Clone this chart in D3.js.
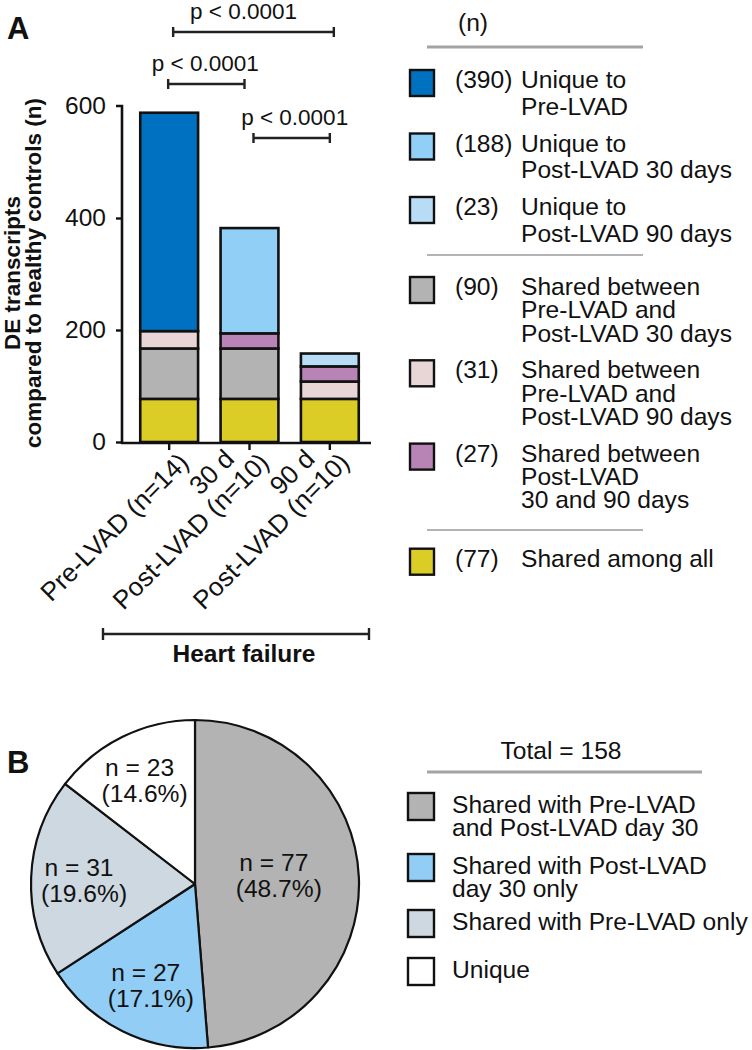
<!DOCTYPE html>
<html><head><meta charset="utf-8">
<script src="https://cdn.jsdelivr.net/npm/d3@7"></script>
<style>
body{margin:0;background:#fff}
svg{display:block}
text{font-family:"Liberation Sans",Arial,Helvetica,sans-serif;fill:#111}
</style>
</head><body>
<svg id="c" width="752" height="1050"></svg>
<script>
// ---------- DATA ----------
const categories = ["pre", "d30", "d90"];
const categoryLabels = [["Pre-LVAD (n=14)"], ["30 d", "Post-LVAD (n=10)"], ["90 d", "Post-LVAD (n=10)"]];
const seriesKeys = ["all", "pre30", "pre90", "d3090", "uPre", "u30", "u90"];
const seriesColors = ["#dccd26", "#b3b3b3", "#e8d6d6", "#b784b5", "#0070c0", "#92cff7", "#b8dcf5"];
const seriesAll   = [77, 77, 77];
const seriesPre30 = [90, 90, 0];
const seriesPre90 = [31, 0, 31];
const series3090  = [0, 27, 27];
const seriesUPre  = [390, 0, 0];
const seriesU30   = [0, 188, 0];
const seriesU90   = [0, 0, 23];
const yTicks = [0, 200, 400, 600];
const yTitle = ["DE transcripts", "compared to healthy controls (n)"];
const groupTitle = "Heart failure";
const comparisons = [[0, 2], [0, 1], [1, 2]];
const pValues = ["p < 0.0001", "p < 0.0001", "p < 0.0001"];
const legendHeader = "(n)";
const legendOrder = ["uPre", "u30", "u90", "pre30", "pre90", "d3090", "all"];
const legendCounts = [390, 188, 23, 90, 31, 27, 77];
const legendLabels = [
  ["Unique to", "Pre-LVAD"],
  ["Unique to", "Post-LVAD 30 days"],
  ["Unique to", "Post-LVAD 90 days"],
  ["Shared between", "Pre-LVAD and", "Post-LVAD 30 days"],
  ["Shared between", "Pre-LVAD and", "Post-LVAD 90 days"],
  ["Shared between", "Post-LVAD", "30 and 90 days"],
  ["Shared among all"]
];
const pieValues = [77, 27, 31, 23];
const pieColors = ["#b3b3b3", "#92cdf5", "#cdd8e0", "#ffffff"];
const pieLegendLabels = [
  ["Shared with Pre-LVAD", "and Post-LVAD day 30"],
  ["Shared with Post-LVAD", "day 30 only"],
  ["Shared with Pre-LVAD only"],
  ["Unique"]
];
const pieTotalLabel = "Total = 158";

// ---------- LAYOUT ----------
const svg = d3.select("#c");
const FS = 24.6;
const seriesByKey = {all: seriesAll, pre30: seriesPre30, pre90: seriesPre90, d3090: series3090, uPre: seriesUPre, u30: seriesU30, u90: seriesU90};
const colorOf = d3.scaleOrdinal().domain(seriesKeys).range(seriesColors);
const table = categories.map((c, i) => {
  const row = {cat: c};
  seriesKeys.forEach(k => row[k] = seriesByKey[k][i]);
  return row;
});

const x = d3.scaleBand().domain(categories).range([129, 370]).paddingInner(0.28).paddingOuter(0.14);
const y = d3.scaleLinear().domain([0, 600]).range([442, 106]);
const axisX0 = 122, baseY = 443;

// panel labels
svg.append("text").attr("x", 7).attr("y", 39).attr("font-size", 31).attr("font-weight", "bold").text("A");
svg.append("text").attr("x", 7).attr("y", 773).attr("font-size", 31).attr("font-weight", "bold").text("B");

// bars
const stack = d3.stack().keys(seriesKeys)(table);
const gBars = svg.append("g");
stack.forEach(layer => {
  gBars.selectAll(null).data(layer.filter(d => d[1] - d[0] > 0)).enter().append("rect")
    .attr("x", d => x(d.data.cat))
    .attr("width", x.bandwidth())
    .attr("y", d => y(d[1]))
    .attr("height", d => y(d[0]) - y(d[1]))
    .attr("fill", colorOf(layer.key))
    .attr("stroke", "#111").attr("stroke-width", 2.6);
});

// y axis
const yAxis = svg.append("g").attr("transform", `translate(${axisX0},0)`)
  .call(d3.axisLeft(y).tickValues(yTicks).tickSize(6).tickPadding(10).tickFormat(d3.format("d")));
yAxis.select(".domain").attr("d", `M-6,${y(600)}H0V${baseY + 1}`).attr("stroke", "#111").attr("stroke-width", 2.6);
yAxis.selectAll(".tick line").attr("stroke", "#111").attr("stroke-width", 2.4);
yAxis.selectAll(".tick text").attr("font-size", 24.5).attr("fill", "#111").attr("font-family", '"Liberation Sans",Arial,sans-serif');
yAxis.selectAll(".tick").filter(d => d === 600).select("line").remove();

// x axis
const xAxis = svg.append("g").attr("transform", `translate(0,${baseY})`)
  .call(d3.axisBottom(x).tickSize(7).tickFormat(""));
xAxis.select(".domain").attr("d", `M${axisX0 - 1},0H${x.range()[1] + 1}`).attr("stroke", "#111").attr("stroke-width", 2.6);
xAxis.selectAll(".tick line").attr("stroke", "#111").attr("stroke-width", 2.4);
xAxis.selectAll(".tick text").remove();
categories.forEach((c, i) => {
  const cx = x(c) + x.bandwidth() / 2;
  const lines = categoryLabels[i];
  const last = lines.length - 1;
  const g = svg.append("g").attr("transform", `translate(${cx + 21},${baseY + 21}) rotate(-45)`);
  lines.forEach((t, j) => {
    g.append("text").attr("text-anchor", "end").attr("font-size", 26)
      .attr("x", j < last ? -22 : 0).attr("y", (j - last) * 27).text(t);
  });
});

// y title
const yt = svg.append("g").attr("transform", "translate(0,273) rotate(-90)");
yTitle.forEach((t, j) => {
  yt.append("text").attr("text-anchor", "middle").attr("font-size", 22.5).attr("font-weight", "bold")
    .attr("x", 0).attr("y", 19.5 + j * 21.5).text(t);
});

// heart failure bracket
const hfY = 634, hfX0 = 103, hfX1 = 369;
svg.append("path").attr("d", `M${hfX0},${hfY - 6}V${hfY + 6}M${hfX0},${hfY}H${hfX1}M${hfX1},${hfY - 6}V${hfY + 6}`)
  .attr("stroke", "#222").attr("stroke-width", 2.4).attr("fill", "none");
svg.append("text").attr("x", (hfX0 + hfX1) / 2 + 8).attr("y", 662).attr("text-anchor", "middle")
  .attr("font-size", 24.5).attr("font-weight", "bold").text(groupTitle);

// significance brackets
const bracketY = [32, 84, 138];
const bracketDx = [[4, 4], [-1, -5], [4, 0]];
const textDx = [-10, -1, 3];
comparisons.forEach((cmp, i) => {
  const xa = x(categories[cmp[0]]) + x.bandwidth() / 2 + bracketDx[i][0];
  const xb = x(categories[cmp[1]]) + x.bandwidth() / 2 + bracketDx[i][1];
  const by = bracketY[i];
  svg.append("path").attr("d", `M${xa},${by - 5}V${by + 5}M${xa},${by}H${xb}M${xb},${by - 5}V${by + 5}`)
    .attr("stroke", "#222").attr("stroke-width", 2.4).attr("fill", "none");
  svg.append("text").attr("x", (xa + xb) / 2 + textDx[i]).attr("y", by - 13).attr("text-anchor", "middle")
    .attr("font-size", 22.5).text(pValues[i]);
});

// legend A
svg.append("text").attr("x", 473).attr("y", 31).attr("text-anchor", "middle").attr("font-size", FS).text(legendHeader);
const sepLines = [[47, 3, "#a3a3a3"], [255, 2, "#b3b3b3"], [530, 2, "#b3b3b3"]];
sepLines.forEach(s => svg.append("line").attr("x1", 427).attr("x2", 643).attr("y1", s[0]).attr("y2", s[0])
  .attr("stroke", s[2]).attr("stroke-width", s[1]));
const legBase = [88, 151.5, 215, 295, 378.3, 461.6, 566.7];
const legLH = [26.6, 26.6, 26.6, 23.4, 23.4, 23.4, 23.4];
legendOrder.forEach((k, i) => {
  const b = legBase[i];
  svg.append("rect").attr("x", 410).attr("y", b - 18).attr("width", 24).attr("height", 26)
    .attr("fill", colorOf(k)).attr("stroke", "#111").attr("stroke-width", 2.4);
  svg.append("text").attr("x", 455).attr("y", b).attr("font-size", FS).text(`(${legendCounts[i]})`);
  legendLabels[i].forEach((t, j) => {
    svg.append("text").attr("x", 521).attr("y", b + j * legLH[i]).attr("font-size", FS).text(t);
  });
});

// pie
const cx = 195, cy = 884, R = 164;
const pie = d3.pie().sort(null).value(d => d)(pieValues);
const arc = d3.arc().innerRadius(0).outerRadius(R);
const total = d3.sum(pieValues);
const gPie = svg.append("g").attr("transform", `translate(${cx},${cy})`);
gPie.selectAll("path").data(pie).enter().append("path")
  .attr("d", arc).attr("fill", (d, i) => pieColors[i]).attr("stroke", "#111").attr("stroke-width", 2.2)
  .attr("stroke-linejoin", "round");
const pct = d3.format(".1f");
pie.forEach(d => {
  const lr = d.value / total > 0.4 ? 81 : 114;
  const a = (d.startAngle + d.endAngle) / 2 - 0.03;
  const lx = Math.sin(a) * lr, ly = -Math.cos(a) * lr;
  gPie.append("text").attr("x", lx - 2).attr("y", ly - 7).attr("text-anchor", "middle").attr("font-size", FS).text(`n = ${d.value}`);
  gPie.append("text").attr("x", lx + 3).attr("y", ly + 19).attr("text-anchor", "middle").attr("font-size", FS).text(`(${pct(d.value / total * 100)}%)`);
});

// pie legend
svg.append("text").attr("x", 561).attr("y", 759).attr("text-anchor", "middle").attr("font-size", FS).text(pieTotalLabel);
svg.append("line").attr("x1", 427).attr("x2", 702).attr("y1", 772).attr("y2", 772).attr("stroke", "#a3a3a3").attr("stroke-width", 3);
const pieLegBase = [813, 874, 930, 978];
pieLegendLabels.forEach((lines, i) => {
  const b = pieLegBase[i];
  svg.append("rect").attr("x", 408).attr("y", b - 20).attr("width", 26).attr("height", 27)
    .attr("fill", pieColors[i]).attr("stroke", "#111").attr("stroke-width", 2.4);
  lines.forEach((t, j) => svg.append("text").attr("x", 452).attr("y", b + j * 23).attr("font-size", FS).text(t));
});
</script>
</body></html>
